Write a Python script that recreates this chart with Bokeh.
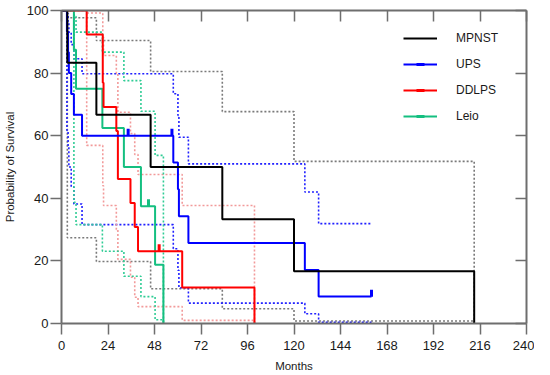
import math
from bokeh.plotting import figure
from bokeh.models import (Range1d, LinearAxis, FixedTicker, Legend, LegendItem,
                          ColumnDataSource, CustomJSTickFormatter)
from bokeh.embed import file_html
from bokeh.resources import INLINE

# ---------------- data ----------------
month_ticks = [0, 24, 48, 72, 96, 120, 144, 168, 192, 216, 240]
surv_ticks = [0, 20, 40, 60, 80, 100]

groups = ["MPNST", "UPS", "DDLPS", "Leio"]

mpnst_t = [0, 3, 18, 46, 83, 120, 213]
mpnst_s = [100, 83.3, 66.7, 50, 33.3, 16.7, 0]
mpnst_hi = [100, 97.7, 90.4, 80.5, 67.7, 51.8, 0]
mpnst_lo = [100, 27.4, 19.8, 11.1, 4.7, 0.8, 0]
mpnst_cens_t = []
mpnst_cens_s = []

ups_t = [0, 2.8, 3.4, 3.8, 5.0, 6.4, 10.6, 57.7, 60.1, 60.6, 65.5, 125.6, 132.7, 160]
ups_s = [100, 93.3, 86.7, 80, 73.3, 66.7, 60, 51.4, 42.9, 34.3, 25.7, 17.1, 8.6, 8.6]
ups_hi = [100, 99.0, 96.5, 93.1, 89.1, 84.6, 79.8, 73.4, 66.5, 59.5, 51.0, 42.0, 31.9, 31.9]
ups_lo = [100, 61.7, 56.4, 50.0, 43.6, 38.2, 31.6, 23.9, 17.0, 11.4, 6.5, 3.1, 0.4, 0.4]
ups_cens_t = [34.4, 57.0, 160]
ups_cens_s = [60, 60, 8.6]

ddlps_t = [0, 13, 21.3, 21.7, 28.3, 29.1, 35.6, 37.8, 39.5, 62.3, 99.6]
ddlps_s = [100, 92.3, 76.9, 69.2, 61.5, 46.2, 38.5, 30.8, 23.1, 11.5, 0]
ddlps_hi = [100, 99.2, 91.5, 85.6, 80.0, 67.5, 60.7, 54.0, 47.6, 37.7, 0]
ddlps_lo = [100, 56.9, 44.0, 37.7, 30.0, 20.5, 14.8, 8.4, 5.4, 1.0, 0]
ddlps_cens_t = [10, 50.4]
ddlps_cens_s = [100, 23.1]

leio_t = [0, 6.4, 7.5, 21.1, 32.2, 41.0, 48.3, 52.6]
leio_s = [100, 87.5, 75, 62.5, 50, 37.5, 18.8, 0]
leio_hi = [100, 98.1, 93.1, 86.7, 77.6, 67.8, 53.7, 0]
leio_lo = [100, 38.7, 31.6, 23.1, 15.1, 8.6, 1.2, 0]
leio_cens_t = [44.9]
leio_cens_s = [37.5]

series = {
    "MPNST": (mpnst_t, mpnst_s, mpnst_hi, mpnst_lo, mpnst_cens_t, mpnst_cens_s),
    "UPS": (ups_t, ups_s, ups_hi, ups_lo, ups_cens_t, ups_cens_s),
    "DDLPS": (ddlps_t, ddlps_s, ddlps_hi, ddlps_lo, ddlps_cens_t, ddlps_cens_s),
    "Leio": (leio_t, leio_s, leio_hi, leio_lo, leio_cens_t, leio_cens_s),
}

# ---------------- styles ----------------
solid_color = {"MPNST": "#000000", "UPS": "#0000ff", "DDLPS": "#ff0000", "Leio": "#14bf80"}
ci_color = {"MPNST": "#7a7a7a", "UPS": "#2020ff", "DDLPS": "#f29a9a", "Leio": "#30cc95"}
FONT = "Liberation Sans"
AXIS_COLOR = "#6e6e6e"

p = figure(width=534, height=374, x_range=Range1d(0, 240), y_range=Range1d(0, 100),
           output_backend="svg", toolbar_location=None,
           min_border_left=55, min_border_right=8, min_border_top=10, min_border_bottom=51)
p.grid.visible = False
p.outline_line_color = None
p.background_fill_color = "white"

for ax, ticks, label in ((p.xaxis[0], month_ticks, "Months"),
                         (p.yaxis[0], surv_ticks, "Probability of Survival")):
    ax.ticker = FixedTicker(ticks=ticks)
    ax.axis_label = label
    ax.axis_label_text_font = FONT
    ax.axis_label_text_font_size = "11.5px"
    ax.axis_label_text_font_style = "normal"
    ax.axis_label_text_color = "#1a1a1a"
    ax.major_label_text_font = FONT
    ax.major_label_text_font_size = "13px"
    ax.major_label_text_color = "#1a1a1a"
    ax.axis_line_color = AXIS_COLOR
    ax.axis_line_width = 2
    ax.major_tick_line_color = AXIS_COLOR
    ax.major_tick_line_width = 1.5
    ax.major_tick_out = 11
    ax.major_tick_in = 0
    ax.minor_tick_line_color = None
p.xaxis[0].major_label_standoff = 6
p.xaxis[0].axis_label_standoff = 7
p.yaxis[0].major_label_standoff = 2
p.yaxis[0].axis_label_standoff = 8

for loc, ticks in (("above", month_ticks), ("right", surv_ticks)):
    ax = LinearAxis(ticker=FixedTicker(ticks=ticks),
                    formatter=CustomJSTickFormatter(code="return ''"))
    ax.axis_line_color = AXIS_COLOR
    ax.axis_line_width = 2
    ax.major_tick_line_color = AXIS_COLOR
    ax.major_tick_line_width = 1.5
    ax.major_tick_in = 11
    ax.major_tick_out = 0
    ax.major_label_standoff = 0
    ax.minor_tick_line_color = None
    p.add_layout(ax, loc)

# confidence bands (dotted)
for g in groups:
    t, s, hi, lo, ct, cs = series[g]
    for band in (hi, lo):
        p.step(x=t, y=band, mode="after", line_color=ci_color[g], line_width=1.6,
               line_dash="2 2")

# survival curves + censor marks
legend_items = {}
for g in ["Leio", "DDLPS", "UPS", "MPNST"]:
    t, s, hi, lo, ct, cs = series[g]
    r_line = p.step(x=t, y=s, mode="after", line_color=solid_color[g], line_width=2)
    src = ColumnDataSource(dict(x=list(ct), y=[v + 1.1 for v in cs]))
    r_c = p.scatter(x="x", y="y", source=src, marker="dash", angle=math.pi / 2,
                    size=7, line_color=solid_color[g], line_width=3)
    legend_items[g] = LegendItem(label=g, renderers=[r_line, r_c])

legend = Legend(items=[legend_items[g] for g in groups], location=(342, 197),
                orientation="vertical", padding=0, margin=0, spacing=6,
                glyph_width=34, glyph_height=20, label_height=20,
                label_standoff=19, label_text_font=FONT, label_text_font_size="12px",
                label_text_color="#1a1a1a",
                border_line_color=None, background_fill_alpha=0)
p.add_layout(legend)

open("out.html", "w").write(file_html(p, INLINE))
